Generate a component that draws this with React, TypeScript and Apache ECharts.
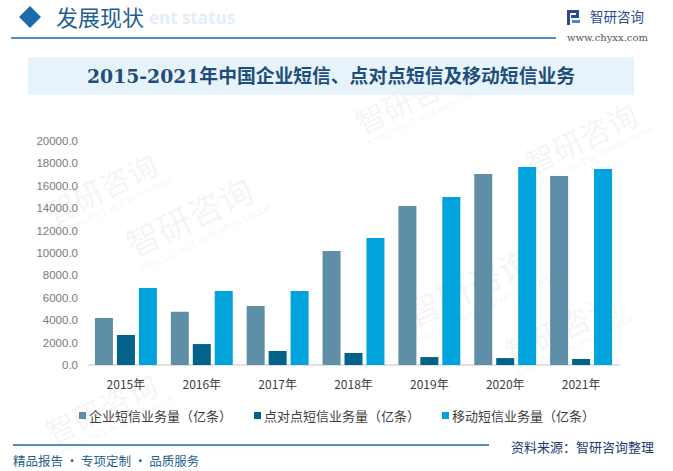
import React, { useEffect, useRef } from "react";
import * as echarts from "echarts";

const years = ["2015年", "2016年", "2017年", "2018年", "2019年", "2020年", "2021年"];
const seriesNames = ["企业短信业务量（亿条）", "点对点短信业务量（亿条）", "移动短信业务量（亿条）"];
const enterprise = [4200, 4750, 5260, 10180, 14200, 17050, 16880];
const p2p = [2680, 1870, 1250, 1070, 710, 620, 540];
const mobile = [6880, 6610, 6610, 11340, 15000, 17680, 17500];
const yTicks = { min: 0, max: 20000, interval: 2000 };
const colors = ["#5e8fa7", "#02628a", "#00a3dc"];

const CJK = "'Noto Sans CJK SC', 'Noto Sans', sans-serif";

function watermark(x: number, y: number, size: number) {
  return {
    type: "group",
    x,
    y,
    rotation: 0.45,
    silent: true,
    children: [
      {
        type: "text",
        x: 0,
        y: 0,
        style: { text: "智研咨询", fontSize: size, fontFamily: CJK, fill: "rgba(120,140,165,0.09)" },
      },
      {
        type: "text",
        x: 0,
        y: size * 1.15,
        style: {
          text: "INTELLIGENCE RESEARCH GROUP",
          fontSize: size * 0.28,
          fontFamily: "Roboto, sans-serif",
          fill: "rgba(120,140,165,0.1)",
        },
      },
    ],
  };
}

export default function App() {
  const ref = useRef<HTMLDivElement>(null);
  useEffect(() => {
    document.body.style.margin = "0";
    const chart = echarts.init(ref.current!, null, { renderer: "svg" });
    chart.setOption({
      animation: false,
      backgroundColor: "#ffffff",
      color: colors,
      grid: { left: 88, right: 54, top: 141, bottom: 106, containLabel: false },
      legend: {
        data: seriesNames,
        left: 74,
        top: 404,
        icon: "rect",
        itemWidth: 7,
        itemHeight: 7,
        itemGap: 22,
        textStyle: { fontSize: 13, color: "#404040", fontFamily: CJK, padding: [0, 0, 0, -2] },
      },
      xAxis: {
        type: "category",
        data: years,
        axisLine: { lineStyle: { color: "#d9d9d9", width: 1.5 } },
        axisTick: { show: false },
        axisLabel: { color: "#404040", fontSize: 12, margin: 12, fontFamily: CJK },
      },
      yAxis: {
        type: "value",
        min: yTicks.min,
        max: yTicks.max,
        interval: yTicks.interval,
        axisLine: { show: false },
        axisTick: { show: false },
        splitLine: { show: false },
        axisLabel: {
          color: "#7a7a7a",
          fontSize: 11.5,
          margin: 10,
          fontFamily: "'Liberation Sans', Arial, sans-serif",
          formatter: (v: number) => v.toFixed(1),
        },
      },
      series: [
        { name: seriesNames[0], type: "bar", data: enterprise, barWidth: 18, barGap: "22%" },
        { name: seriesNames[1], type: "bar", data: p2p, barWidth: 18, barGap: "22%" },
        { name: seriesNames[2], type: "bar", data: mobile, barWidth: 18, barGap: "22%" },
      ],
      graphic: [
        watermark(40, 200, 30),
        watermark(120, 230, 34),
        watermark(400, 300, 34),
        watermark(350, 110, 30),
        watermark(520, 150, 30),
        watermark(500, 340, 30),
        watermark(40, 420, 30),
        {
          type: "text",
          x: 149,
          y: 9,
          z: 1,
          style: {
            text: "ent status",
            fontSize: 17,
            fontWeight: "bold",
            fontFamily: "'Open Sans', sans-serif",
            fill: "#e3eef8",
          },
        },
        {
          type: "polygon",
          z: 2,
          shape: { points: [[30, 6], [41, 17], [30, 28], [19, 17]] },
          style: { fill: "#1a6ba8" },
        },
        {
          type: "text",
          x: 56,
          y: 5,
          z: 3,
          style: { text: "发展现状", fontSize: 22, fontFamily: CJK, fill: "#1f5f94" },
        },
        {
          type: "line",
          shape: { x1: 11, y1: 38, x2: 556, y2: 38 },
          style: { stroke: "#1b6aa5", lineWidth: 1.5 },
        },
        // logo icon
        { type: "rect", shape: { x: 567, y: 10, width: 12, height: 3 }, style: { fill: "#2b4a8b" } },
        { type: "rect", shape: { x: 567, y: 10, width: 3, height: 15 }, style: { fill: "#2b4a8b" } },
        { type: "rect", shape: { x: 576, y: 10, width: 3, height: 7 }, style: { fill: "#2b4a8b" } },
        { type: "rect", shape: { x: 571, y: 15, width: 8, height: 3 }, style: { fill: "#2b4a8b" } },
        { type: "rect", shape: { x: 572, y: 20, width: 8, height: 3 }, style: { fill: "#3d8fd1" } },
        {
          type: "text",
          x: 590,
          y: 9,
          style: { text: "智研咨询", fontSize: 13.5, fontFamily: CJK, fill: "#2b4a8b" },
        },
        {
          type: "text",
          x: 567,
          y: 32,
          style: { text: "www.chyxx.com", fontSize: 10, fontFamily: "'DejaVu Serif', serif", fill: "#555555" },
        },
        {
          type: "rect",
          shape: { x: 28, y: 57, width: 606, height: 38 },
          style: { fill: "#e7f3fb" },
        },
        {
          type: "text",
          x: 331,
          y: 76,
          style: {
            text: "2015-2021年中国企业短信、点对点短信及移动短信业务",
            fontSize: 18.8,
            fontWeight: "bold",
            fontFamily: "'DejaVu Serif', 'Noto Sans CJK SC', serif",
            fill: "#1f4e79",
            align: "center",
            verticalAlign: "middle",
          },
        },
        {
          type: "line",
          shape: { x1: 13, y1: 445, x2: 489, y2: 445 },
          style: { stroke: "#1b6aa5", lineWidth: 1.5 },
        },
        {
          type: "text",
          x: 511,
          y: 440,
          style: { text: "资料来源：智研咨询整理", fontSize: 13, fontFamily: CJK, fill: "#1f3c6e" },
        },
        {
          type: "text",
          x: 13,
          y: 454,
          style: { text: "精品报告 · 专项定制 · 品质服务", fontSize: 12.5, fontFamily: CJK, fill: "#1f5f8f" },
        },
      ],
    });
    return () => chart.dispose();
  }, []);
  return <div ref={ref} style={{ width: 673, height: 471 }} />;
}
